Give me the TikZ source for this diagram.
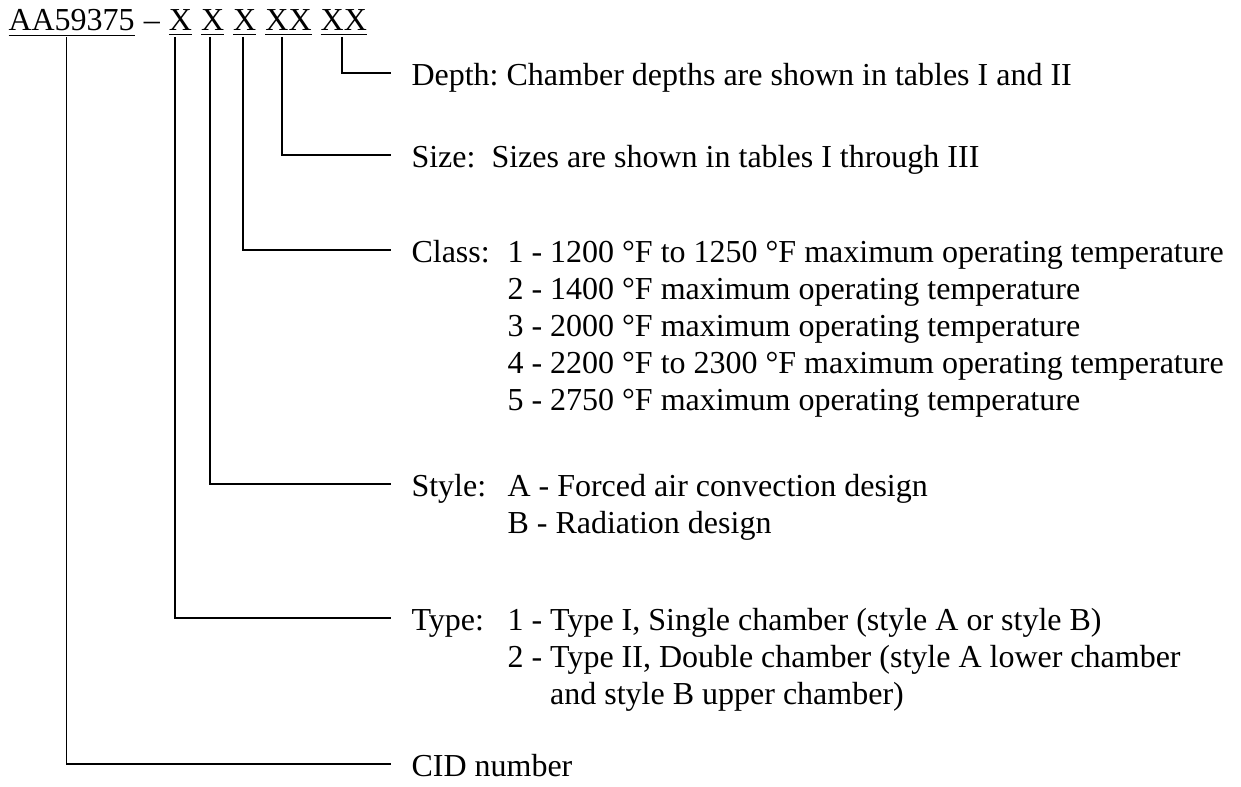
\documentclass[tikz,border=0pt]{standalone}
\usepackage{fontspec}
\setmainfont{Liberation Serif}
\usepackage{array}
\usetikzlibrary{positioning,calc}
\frenchspacing

\begin{document}
\begin{tikzpicture}[x=0.375pt,y=-0.375pt,
    font=\fontsize{12}{13.8}\selectfont,
    hdr/.style={inner sep=0pt,anchor=base west},
    lab/.style={inner xsep=7.5pt,inner ysep=0pt,anchor=base west},
    leader/.style={line width=0.7pt}]
  \useasboundingbox (0,0) rectangle (1241,787);

  % designation
  \node[hdr] (cid) at (8,31) {\underline{AA59375}};
  \node[hdr,right=3pt of cid.base east,anchor=base west] (dash) {--};
  \node[hdr,right=3pt of dash.base east,anchor=base west] (typ) {\underline{X}};
  \node[hdr,right=3pt of typ.base east,anchor=base west] (sty) {\underline{X}};
  \node[hdr,right=3pt of sty.base east,anchor=base west] (cls) {\underline{X}};
  \node[hdr,right=3pt of cls.base east,anchor=base west] (siz) {\underline{XX}};
  \node[hdr,right=3pt of siz.base east,anchor=base west] (dep) {\underline{XX}};

  % meanings
  \node[lab] (depl) at (391,86) {Depth: Chamber depths are shown in tables I and II};
  \node[lab] (sizl) at (391,168) {Size:\ \ Sizes are shown in tables I through III};
  \node[lab] (clsl) at (391,263) {\begin{tabular}[t]{@{}p{36pt}@{}l@{}}
      Class: & 1 - 1200 °F to 1250 °F maximum operating temperature\\
             & 2 - 1400 °F maximum operating temperature\\
             & 3 - 2000 °F maximum operating temperature\\
             & 4 - 2200 °F to 2300 °F maximum operating temperature\\
             & 5 - 2750 °F maximum operating temperature
    \end{tabular}};
  \node[lab] (styl) at (391,497) {\begin{tabular}[t]{@{}p{36pt}@{}l@{}}
      Style: & A - Forced air convection design\\
             & B - Radiation design
    \end{tabular}};
  \node[lab] (typl) at (391,631) {\begin{tabular}[t]{@{}p{36pt}@{}l@{}}
      Type: & 1 - Type I, Single chamber (style A or style B)\\
            & 2 - Type II, Double chamber (style A lower chamber\\
            & \phantom{2 - }and style B upper chamber)
    \end{tabular}};
  \node[lab] (cidl) at (391,777) {CID number};

  \foreach \src/\lbl/\f in {cid/cidl/.46,typ/typl/.28,sty/styl/.39,
                            cls/clsl/.41,siz/sizl/.36,dep/depl/.46}
    \draw[leader] ($(\src.south west)!\f!(\src.south east)$)
      |- ([yshift=4.8pt]\lbl.base west);
\end{tikzpicture}
\end{document}
